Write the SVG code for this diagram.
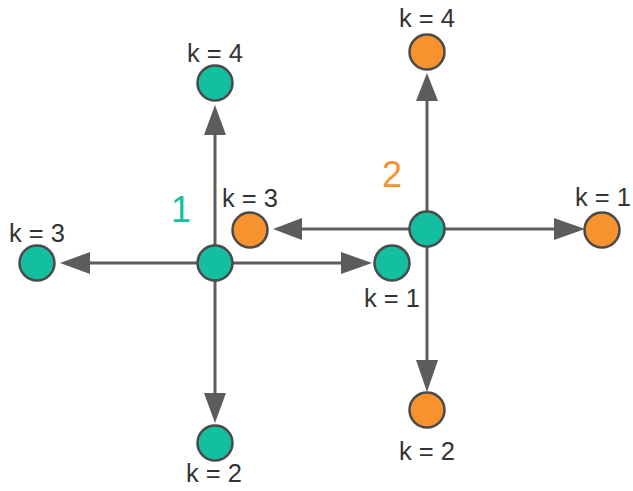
<svg xmlns="http://www.w3.org/2000/svg" width="633" height="491" viewBox="0 0 633 491">
<defs>
<style>
.edge{stroke:#5c5c5c;stroke-width:3;fill:none}
.head{fill:#5c5c5c}
.teal{fill:#13bfa0;stroke:#4a4a4a;stroke-width:2.5}
.orange{fill:#f7922f;stroke:#4a4a4a;stroke-width:2.5}
.lbl{font-family:"Liberation Sans",Arial,sans-serif;font-size:25.5px;fill:#333333;text-anchor:middle}
.big{font-family:"Liberation Sans",Arial,sans-serif;font-size:36px;text-anchor:middle}
</style>
</defs>
<rect width="633" height="491" fill="#ffffff"/>
<g id="connectors">
<line class="edge" x1="215" y1="263" x2="215" y2="132"/>
<polygon class="head" points="215,105 204,135 226,135"/>
<line class="edge" x1="215" y1="263" x2="88" y2="263"/>
<polygon class="head" points="60,263 90,252 90,274"/>
<line class="edge" x1="215" y1="263" x2="343" y2="263"/>
<polygon class="head" points="372,263 341,252 341,274"/>
<line class="edge" x1="215" y1="263" x2="215" y2="396"/>
<polygon class="head" points="215,423 204,393 226,393"/>
<line class="edge" x1="427" y1="229" x2="427" y2="100"/>
<polygon class="head" points="427,73 416,101 438,101"/>
<line class="edge" x1="427" y1="229" x2="300" y2="229"/>
<polygon class="head" points="273,229 302,218 302,240"/>
<line class="edge" x1="427" y1="229" x2="556" y2="229"/>
<polygon class="head" points="585,229 554,218 554,240"/>
<line class="edge" x1="427" y1="229" x2="427" y2="363"/>
<polygon class="head" points="427,392 416,360 438,360"/>
</g>
<g id="center1"><circle class="teal" cx="215" cy="263" r="17.5"/><text class="big" x="181" y="222" fill="#13bfa0">1</text></g>
<g id="center2"><circle class="teal" cx="427" cy="229" r="17.5"/><text class="big" x="392" y="187" fill="#f7922f">2</text></g>
<g id="t4"><circle class="teal" cx="215" cy="83" r="17.5"/><text class="lbl" x="215" y="62">k = 4</text></g>
<g id="t3"><circle class="teal" cx="37" cy="263" r="17.5"/><text class="lbl" x="37" y="242">k = 3</text></g>
<g id="t1"><circle class="teal" cx="392" cy="263" r="17.5"/><text class="lbl" x="392" y="307">k = 1</text></g>
<g id="t2"><circle class="teal" cx="215" cy="443" r="17.5"/><text class="lbl" x="214" y="482">k = 2</text></g>
<g id="o4"><circle class="orange" cx="427" cy="52" r="17.5"/><text class="lbl" x="427" y="27">k = 4</text></g>
<g id="o3"><circle class="orange" cx="250" cy="230" r="17.5"/><text class="lbl" x="250" y="207">k = 3</text></g>
<g id="o1"><circle class="orange" cx="602" cy="230" r="17.5"/><text class="lbl" x="603" y="206">k = 1</text></g>
<g id="o2"><circle class="orange" cx="427" cy="410" r="17.5"/><text class="lbl" x="427" y="460">k = 2</text></g>
</svg>
